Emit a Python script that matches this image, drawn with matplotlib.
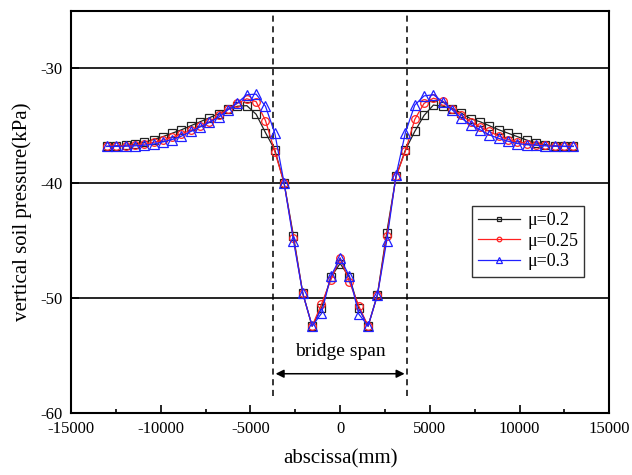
import numpy as np
import matplotlib
matplotlib.use("Agg")
import matplotlib.pyplot as plt
from matplotlib.ticker import MultipleLocator

plt.rcParams['font.family'] = ['Liberation Serif', 'DejaVu Serif']
plt.rcParams['axes.unicode_minus'] = False

# 横坐标 (mm)，-13000 ~ 13000，共51个点
x = np.linspace(-13000, 13000, 51)

# 竖向土压力 (kPa)
p_02 = [-36.8, -36.75, -36.7, -36.6, -36.45, -36.2, -35.95, -35.65, -35.35, -35.0,
        -34.65, -34.3, -33.95, -33.55, -33.3, -33.25, -34.0, -35.6, -37.1, -40.0,
        -44.6, -49.6, -52.45, -50.9, -48.2, -47.0, -48.2, -50.9, -52.45, -49.7,
        -44.3, -39.4, -37.1, -35.5, -34.1, -33.2, -33.3, -33.5, -33.9, -34.4,
        -34.65, -35.0, -35.35, -35.65, -35.95, -36.25, -36.5, -36.65, -36.75, -36.8,
        -36.8]
p_025 = [-36.8, -36.78, -36.75, -36.7, -36.6, -36.45, -36.25, -36.0, -35.7, -35.4,
         -35.05, -34.65, -34.1, -33.5, -33.05, -32.65, -32.9, -34.55, -37.25, -40.0,
         -44.8, -49.6, -52.45, -50.55, -48.45, -46.5, -48.6, -50.7, -52.45, -49.75,
         -44.6, -39.4, -37.2, -34.45, -33.05, -32.6, -32.85, -33.55, -34.1, -34.65,
         -35.1, -35.5, -35.9, -36.2, -36.4, -36.55, -36.65, -36.72, -36.77, -36.8,
         -36.8]
p_03 = [-36.8, -36.8, -36.78, -36.75, -36.7, -36.6, -36.4, -36.2, -35.9, -35.5,
        -35.1, -34.7, -34.25, -33.6, -33.0, -32.3, -32.25, -33.3, -35.65, -40.0,
        -45.0, -49.6, -52.45, -51.35, -48.1, -46.55, -48.1, -51.4, -52.45, -49.75,
        -45.0, -39.3, -35.6, -33.2, -32.4, -32.3, -32.9, -33.6, -34.35, -34.9,
        -35.35, -35.8, -36.1, -36.35, -36.55, -36.65, -36.7, -36.75, -36.78, -36.8,
        -36.8]

span = 3750  # 桥跨半宽

fig = plt.figure(figsize=(6.32, 4.75), dpi=100)
ax = fig.add_axes([0.1123, 0.131, 0.8517, 0.846])

# 水平网格线
for yv in [-30, -40, -50]:
    ax.axhline(yv, color='black', lw=1.2, zorder=1)

ax.plot(x, p_02, color='#222222', marker='s', ms=5.5, mfc='none', mew=0.9, lw=0.9, label='μ=0.2', zorder=3)
ax.plot(x, p_025, color='#ff2020', marker='o', ms=5.5, mfc='none', mew=0.9, lw=0.9, label='μ=0.25', zorder=4)
ax.plot(x, p_03, color='#2020ff', marker='^', ms=6.5, mfc='none', mew=0.9, lw=0.9, label='μ=0.3', zorder=5)

# 桥跨虚线
ax.plot([-span, -span], [-58.5, -25], color='black', ls=(0, (4, 3)), lw=1.1, zorder=2)
ax.plot([span, span], [-58.5, -25], color='black', ls=(0, (4, 3)), lw=1.1, zorder=2)
ax.annotate('', xy=(-span, -56.6), xytext=(span, -56.6),
            arrowprops=dict(arrowstyle='<|-|>', color='black', lw=1.1, mutation_scale=12))
ax.text(0, -54.7, 'bridge span', ha='center', va='center', fontsize=14)

ax.set_xlim(-15000, 15000)
ax.set_ylim(-60, -25)
ax.xaxis.set_major_locator(MultipleLocator(5000))
ax.xaxis.set_minor_locator(MultipleLocator(2500))
ax.set_yticks([-60, -50, -40, -30])
ax.tick_params(axis='both', which='both', direction='in', labelsize=12, width=1.2)
ax.tick_params(axis='both', which='major', length=6)
ax.tick_params(axis='both', which='minor', length=3)
ax.tick_params(axis='x', pad=6)
ax.tick_params(axis='y', pad=6)
for s in ax.spines.values():
    s.set_linewidth(1.5)

ax.set_xlabel('abscissa(mm)', fontsize=15, labelpad=9)
ax.set_ylabel('vertical soil pressure(kPa)', fontsize=15, labelpad=6)

leg = ax.legend(loc='upper left', bbox_to_anchor=(0.745, 0.515), fontsize=13,
                frameon=True, fancybox=False, edgecolor='black', handlelength=2.3,
                markerscale=0.6, labelspacing=0.2, borderpad=0.35, handletextpad=0.4,
                borderaxespad=0)
leg.get_frame().set_linewidth(1.0)

fig.savefig('out.png', dpi=100)
